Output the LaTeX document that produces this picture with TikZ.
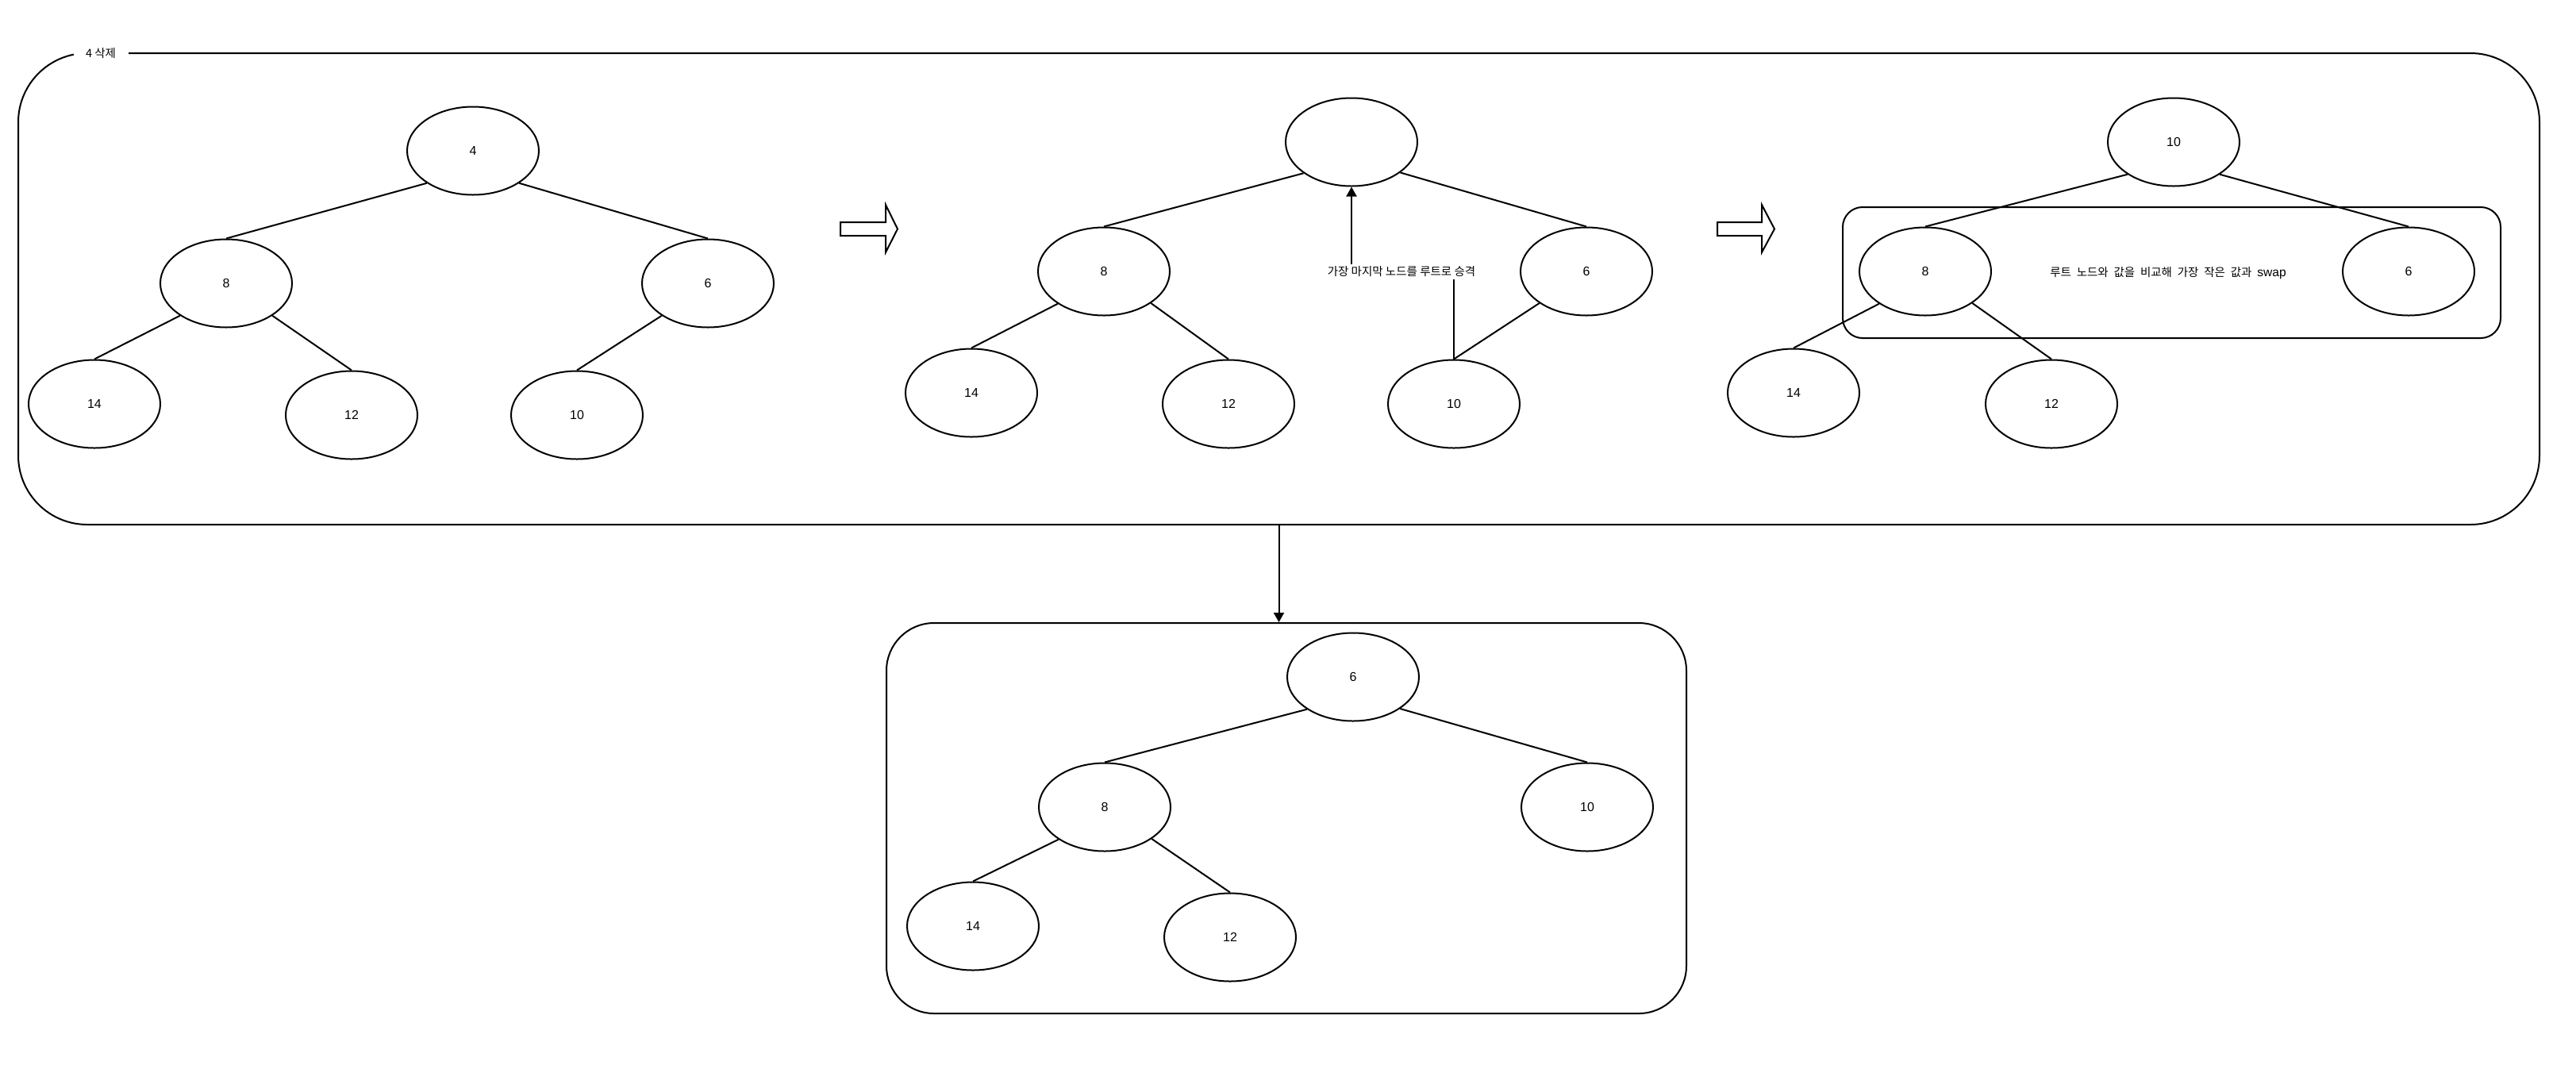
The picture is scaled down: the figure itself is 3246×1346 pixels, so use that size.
\documentclass[tikz,border=0pt]{standalone}
\usepackage{fontspec}
\setmainfont{Liberation Sans}
\newfontfamily\kr{Noto Sans CJK KR}
\usetikzlibrary{arrows.meta,shapes.geometric}

\begin{document}
\begin{tikzpicture}[x=0.5pt,y=-0.5pt,
  every node/.style={font=\fontsize{8}{9.6}\selectfont},
  hnode/.style={draw, ellipse, line width=1pt, minimum width=83pt, minimum height=55.5pt, inner sep=0pt},
  tedge/.style={line width=1pt},
  arr/.style={line width=1pt, -{Triangle[length=6pt,width=6.5pt]}},
  krlbl/.style={font=\kr\fontsize{7.25}{8.7}\selectfont, inner sep=1.5pt},
  panel/.style={draw, line width=1pt, inner sep=0pt},
  hollow/.style={draw, line width=1pt, fill=white, line join=miter}]

\useasboundingbox (0,0) rectangle (3246,1346);

% ---------- panels ----------
\node[panel, rounded corners=43.5pt, minimum width=1588.5pt, minimum height=297pt] (outer) at (1611.5,364) {};
\node[panel, rounded corners=30pt, minimum width=504pt, minimum height=246pt] (lower) at (1621,1031) {};
\node[panel, rounded corners=12.5pt, minimum width=414.5pt, minimum height=82.5pt] (swapbox) at (2736.5,343.5) {};
\node[krlbl, fill=white, inner sep=0pt, minimum width=34.5pt, minimum height=10pt] (title) at (127,67) {4 삭제};

% ---------- panel 1 ----------
\node[hnode] (a4)  at (596,190) {4};
\node[hnode] (a8)  at (285,357) {8};
\node[hnode] (a6)  at (892,357) {6};
\node[hnode] (a14) at (119,509) {14};
\node[hnode] (a12) at (443,523) {12};
\node[hnode] (a10) at (727,523) {10};
\draw[tedge] (a4.215) -- (a8.north);
\draw[tedge] (a4.325) -- (a6.north);
\draw[tedge] (a8.215) -- (a14.north);
\draw[tedge] (a8.325) -- (a12.north);
\draw[tedge] (a6.215) -- (a10.north);

% hollow arrow 1
\draw[hollow] (1059,280) -- (1116,280) -- (1116,258) -- (1131,288.5) -- (1116,318) -- (1116,297) -- (1059,297) -- cycle;

% ---------- panel 2 ----------
\node[hnode] (broot) at (1703,179) {};
\node[hnode] (b8)  at (1391,342) {8};
\node[hnode] (b6)  at (1999,342) {6};
\node[hnode] (b14) at (1224,495) {14};
\node[hnode] (b12) at (1548,509) {12};
\node[hnode] (b10) at (1832,509) {10};
\draw[tedge] (broot.213) -- (b8.north);
\draw[tedge] (broot.328) -- (b6.north);
\draw[tedge] (b8.215) -- (b14.north);
\draw[tedge] (b8.326) -- (b12.north);
\draw[tedge] (b6.214) -- (b10.north);
\coordinate (bk) at (1703,342);
\draw[arr] (b10.north) |- (bk) -- (broot.south);
\node[krlbl, fill=white] (promote) at (1766,342.5) {가장 마지막 노드를 루트로 승격};

% hollow arrow 2
\draw[hollow] (2164,280) -- (2220,280) -- (2220,258) -- (2236,288.5) -- (2220,318) -- (2220,297) -- (2164,297) -- cycle;

% ---------- panel 3 ----------
\node[hnode] (c10) at (2739,179) {10};
\node[hnode] (c8)  at (2426,342) {8};
\node[hnode] (c6)  at (3035,342) {6};
\node[hnode] (c14) at (2260,495) {14};
\node[hnode] (c12) at (2585,509) {12};
\draw[tedge] (c10.215) -- (c8.north);
\draw[tedge] (c10.325) -- (c6.north);
\draw[tedge] (c8.215) -- (c14.north);
\draw[tedge] (c8.326) -- (c12.north);
\node[krlbl] (swaptext) at (2732,344) {\spaceskip=3.4pt plus 0.5pt 루트 노드와 값을 비교해 가장 작은 값과 {\rmfamily\fontsize{7.8}{9}\selectfont swap}};

% ---------- down arrow ----------
\draw[arr] (outer.south) -- (outer.south |- lower.north);

% ---------- lower tree ----------
\node[hnode] (d6)  at (1705,853) {6};
\node[hnode] (d8)  at (1392,1017) {8};
\node[hnode] (d10) at (2000,1017) {10};
\node[hnode] (d14) at (1226,1167) {14};
\node[hnode] (d12) at (1550,1181) {12};
\draw[tedge] (d6.215) -- (d8.north);
\draw[tedge] (d6.326) -- (d10.north);
\draw[tedge] (d8.215) -- (d14.north);
\draw[tedge] (d8.326) -- (d12.north);
\end{tikzpicture}
\end{document}
